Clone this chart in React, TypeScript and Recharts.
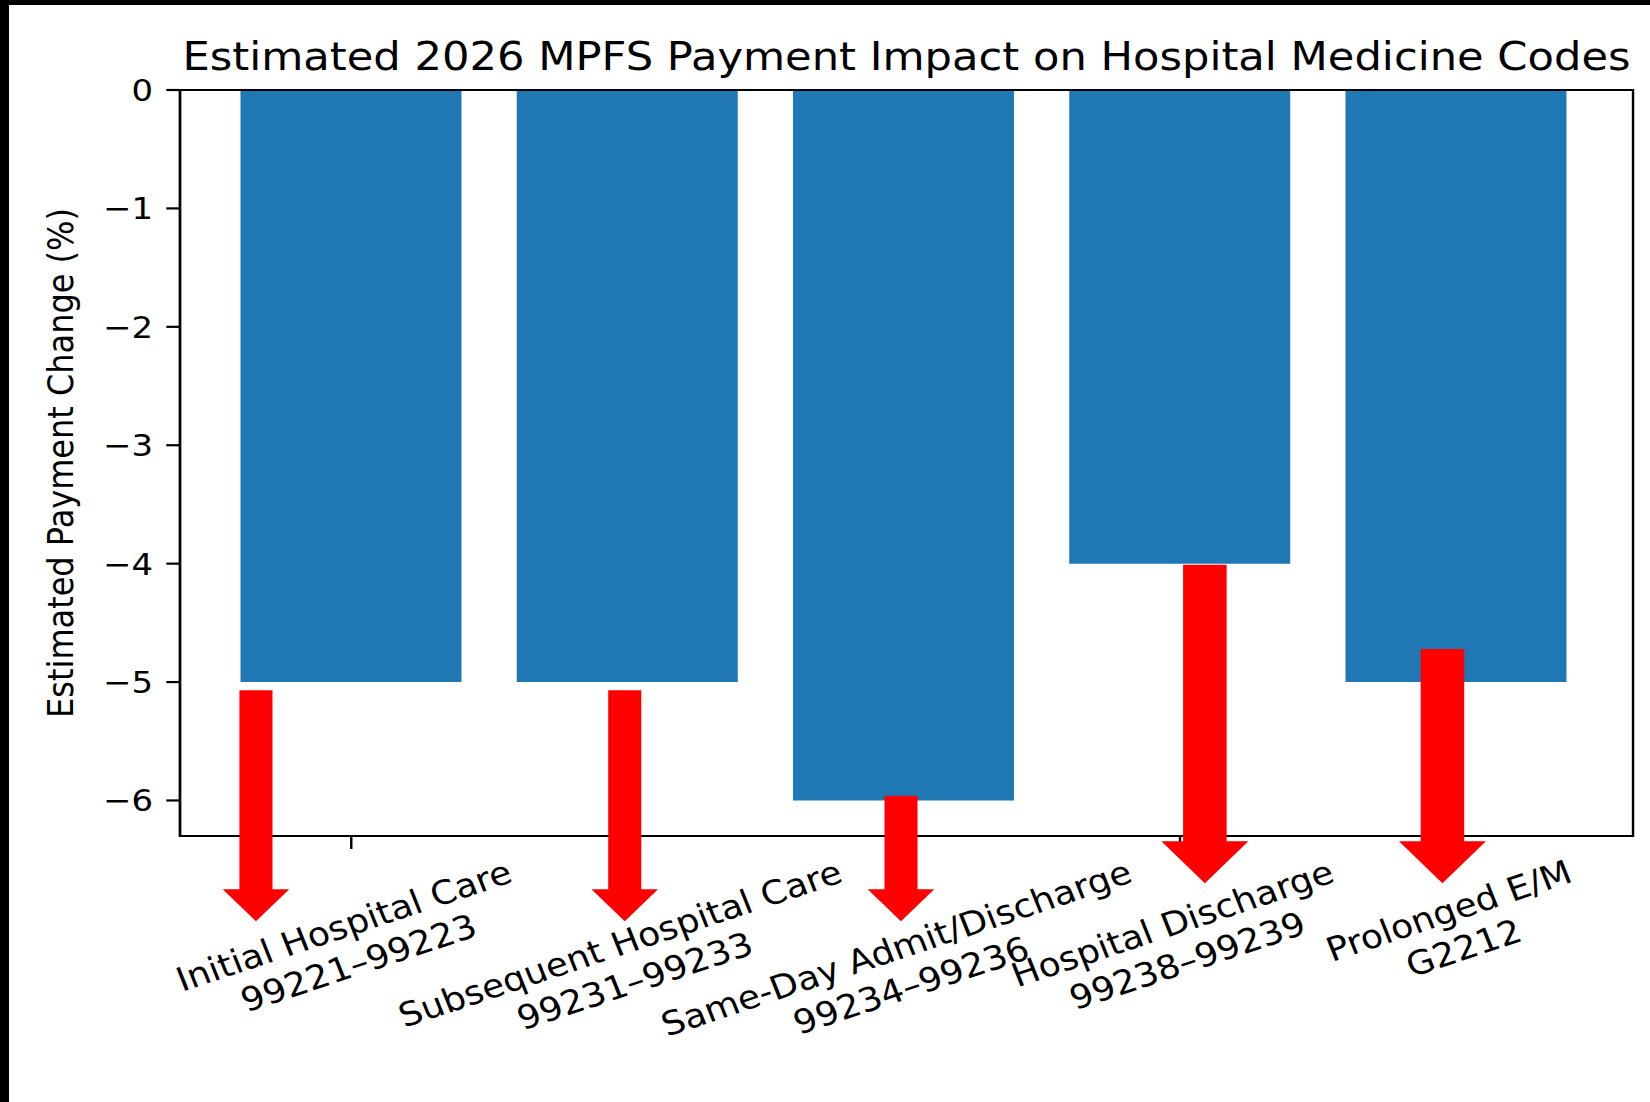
import React from 'react';
import { BarChart, Bar, XAxis, YAxis, ReferenceLine, ReferenceArea } from 'recharts';

// ---------- data ----------
const categories = [
  'Initial Hospital Care',
  'Subsequent Hospital Care',
  'Same-Day Admit/Discharge',
  'Hospital Discharge',
  'Prolonged E/M',
];
const codes = ['99221–99223', '99231–99233', '99234–99236', '99238–99239', 'G2212'];
const changes = [-5, -5, -6, -4, -5];
const yTicks = [0, -1, -2, -3, -4, -5, -6];
const xTicks = [0, 1, 2, 3, 4];
const arrowX = [-0.345, 0.99, 1.99, 3.09, 3.95];
const arrowFrom = [-5.07, -5.07, -5.96, -4.01, -4.72];
const arrowTo = [-7.02, -7.02, -7.02, -6.7, -6.7];
const title = 'Estimated 2026 MPFS Payment Impact on Hospital Medicine Codes';
const yLabel = 'Estimated Payment Change (%)';

const data = categories.map((c, i) => ({ idx: i, name: c, code: codes[i], value: changes[i] }));

// ---------- layout / style ----------
const SX = 1.094;
const CHART_W = 1500;
const CHART_H = 1097;
const Y_AXIS_W = 156.3;
const X_AXIS_H = 60;
const MARGIN = { top: 85, right: 15.5, bottom: CHART_H - 831 - X_AXIS_H, left: 0 };
const PLOT_W = CHART_W - MARGIN.right - Y_AXIS_W;
const X_DOMAIN: [number, number] = [-0.62, 4.64];
const Y_DOMAIN: [number, number] = [-6.3, 0];
const BAR_SIZE = (0.8 * PLOT_W) / (X_DOMAIN[1] - X_DOMAIN[0]);
const FONT = '"DejaVu Sans", "Liberation Sans", sans-serif';
const BAR_COLOR = '#1f77b4';
const ARROW_COLOR = '#ff0000';
const SMALL = { shaft: 30.2, head: 60.8, headLen: 32 };
const LARGE = { shaft: 39.8, head: 79.5, headLen: 42 };
const ARROW_SIZES = [SMALL, SMALL, SMALL, LARGE, LARGE];
const SPINE = { stroke: '#000', strokeWidth: 2.2 };

let ctx: CanvasRenderingContext2D | null = null;
function measure(t: string, fs: number) {
  try {
    if (!ctx) ctx = document.createElement('canvas').getContext('2d');
    if (ctx) {
      ctx.font = `${fs}px "DejaVu Sans"`;
      return ctx.measureText(t).width;
    }
  } catch (e) {}
  return t.length * fs * 0.6;
}

function XTick(props: any) {
  const { x, y, payload } = props;
  const i = payload.value as number;
  if (categories[i] === undefined) return null;
  const lines = [categories[i], codes[i]];
  const fs = 33;
  const lh = fs * 1.2;
  const w = Math.max(...lines.map((l) => measure(l, fs)));
  const h = lh * (lines.length - 1) + fs * 1.164;
  const th = (20 * Math.PI) / 180;
  const H = w * Math.sin(th) + h * Math.cos(th);
  const cy = y + H / 2;
  return (
    <g transform={`translate(${x},${cy}) rotate(-20)`}>
      <text textAnchor="middle" fontSize={fs} fontFamily={FONT} fill="#000">
        {lines.map((l, k) => (
          <tspan key={k} x={0} y={-h / 2 + k * lh + fs * 0.928}>
            {l}
          </tspan>
        ))}
      </text>
    </g>
  );
}

function YLabel(props: any) {
  const vb = props.viewBox || { y: 85, height: 746 };
  const fs = 32;
  const cy = vb.y + vb.height / 2;
  const bx = 47.1 + (0.729 * fs) / 2;
  return (
    <text
      x={bx}
      y={cy}
      transform={`rotate(-90, ${bx}, ${cy})`}
      textAnchor="middle"
      fontSize={fs}
      fontFamily={FONT}
      fill="#000"
    >
      {yLabel}
    </text>
  );
}

function makeArrow(size: { shaft: number; head: number; headLen: number }) {
  return (p: any) => {
    const { x1, y1, y2 } = p;
    if (x1 == null || y1 == null || y2 == null) return <g />;
    const s = size.shaft / 2;
    const hh = size.head / 2;
    const base = y2 - size.headLen;
    const pts = [
      [x1 - s, y1],
      [x1 + s, y1],
      [x1 + s, base],
      [x1 + hh, base],
      [x1, y2],
      [x1 - hh, base],
      [x1 - s, base],
    ]
      .map((q) => q.join(','))
      .join(' ');
    return <polygon points={pts} fill={ARROW_COLOR} stroke="none" />;
  };
}

const fmtY = (v: number) => String(v).replace('-', '\u2212');

export default function App() {
  return (
    <div
      style={{
        position: 'absolute',
        left: 0,
        top: 0,
        width: 1650,
        height: 1102,
        background: '#000',
        overflow: 'hidden',
      }}
    >
      <div style={{ position: 'absolute', left: 9, top: 5, width: 1641, height: 1097, background: '#fff' }}>
        <div
          style={{
            position: 'absolute',
            left: 0,
            top: 0,
            width: CHART_W,
            height: CHART_H,
            transform: `scaleX(${SX})`,
            transformOrigin: '0 0',
          }}
        >
          <div
            style={{
              position: 'absolute',
              left: Y_AXIS_W,
              width: PLOT_W,
              top: 65 - 0.846 * 39.5,
              fontSize: 39.5,
              lineHeight: '39.5px',
              fontFamily: FONT,
              textAlign: 'center',
              whiteSpace: 'nowrap',
              color: '#000',
            }}
          >
            {title}
          </div>
          <BarChart width={CHART_W} height={CHART_H} data={data} margin={MARGIN}>
            <XAxis
              dataKey="idx"
              type="number"
              domain={X_DOMAIN}
              allowDataOverflow
              ticks={xTicks}
              interval={0}
              height={X_AXIS_H}
              tickSize={13}
              tickMargin={3.5}
              tick={<XTick />}
              axisLine={SPINE}
              tickLine={SPINE}
            />
            <YAxis
              type="number"
              domain={Y_DOMAIN}
              allowDataOverflow
              ticks={yTicks}
              interval={0}
              width={Y_AXIS_W}
              tickSize={12.5}
              tickMargin={12}
              tickFormatter={fmtY}
              tick={{ fontSize: 31, fill: '#000', fontFamily: FONT }}
              axisLine={SPINE}
              tickLine={SPINE}
              label={(p: any) => <YLabel {...p} />}
            />
            <Bar dataKey="value" fill={BAR_COLOR} barSize={BAR_SIZE} isAnimationActive={false} />
            <ReferenceArea
              x1={X_DOMAIN[0]}
              x2={X_DOMAIN[1]}
              y1={Y_DOMAIN[0]}
              y2={Y_DOMAIN[1]}
              ifOverflow="visible"
              fill="none"
              fillOpacity={0}
              stroke="#000"
              strokeWidth={2.2}
              strokeOpacity={1}
              zIndex={1400}
            />
            {arrowX.map((ax, i) => (
              <ReferenceLine
                key={i}
                segment={[
                  { x: ax, y: arrowFrom[i] },
                  { x: ax, y: arrowTo[i] },
                ]}
                ifOverflow="visible"
                zIndex={1500}
                shape={makeArrow(ARROW_SIZES[i])}
              />
            ))}
          </BarChart>
        </div>
      </div>
    </div>
  );
}
